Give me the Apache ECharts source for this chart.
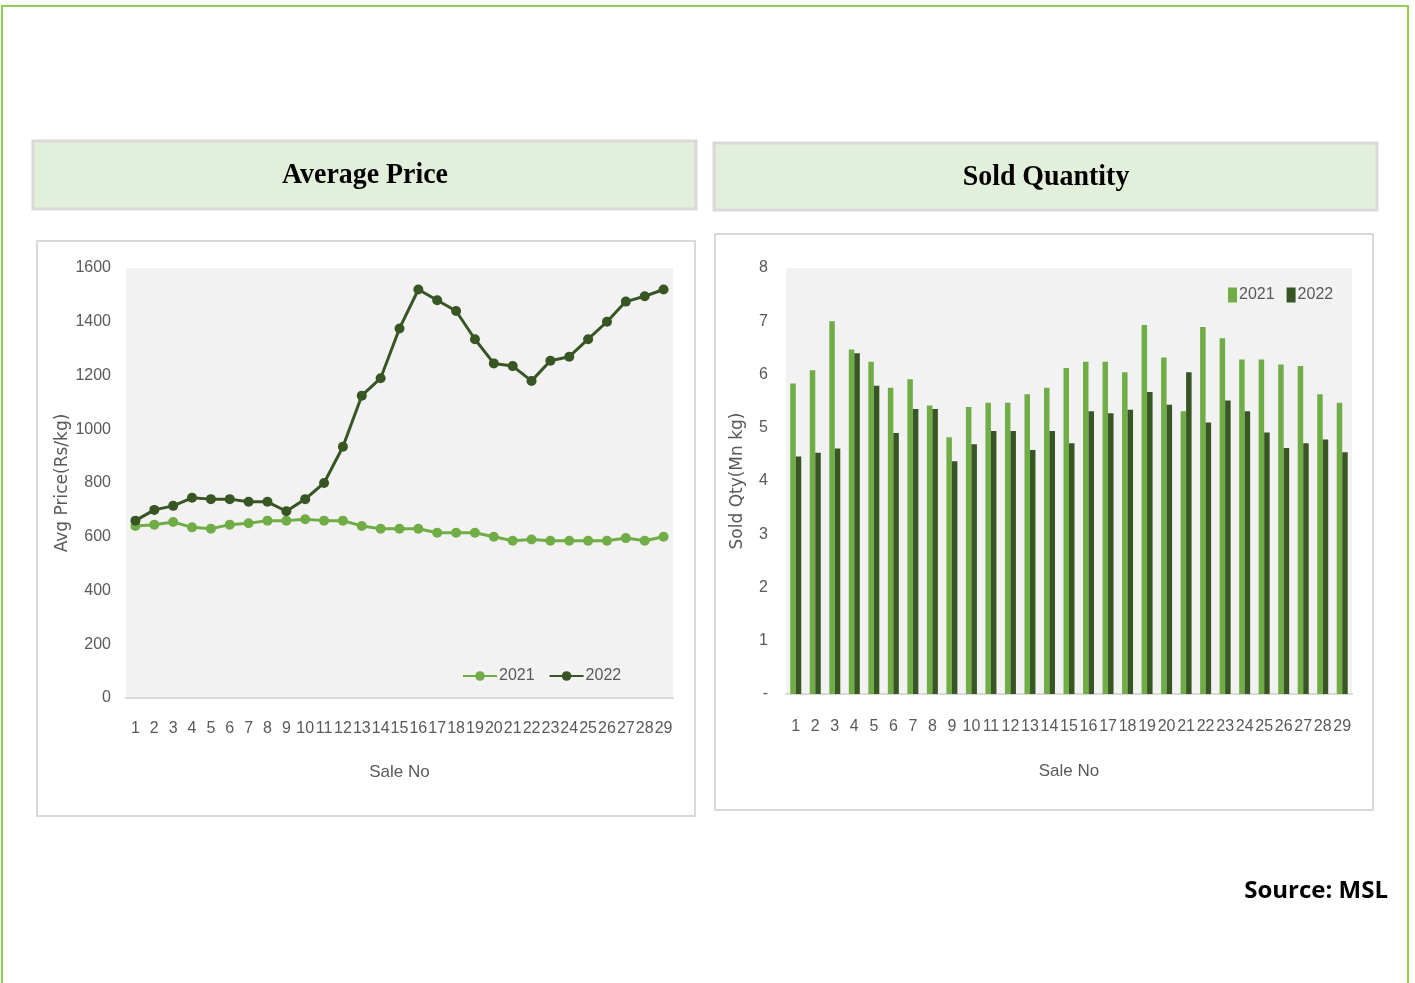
<!DOCTYPE html>
<html>
<head>
<meta charset="utf-8">
<title>Average Price / Sold Quantity</title>
<script src="https://cdn.jsdelivr.net/npm/echarts@6/dist/echarts.min.js"></script>
<style>
  html, body { margin: 0; padding: 0; background: #fff; }
  #main { width: 1415px; height: 983px; }
</style>
</head>
<body>
<div id="main"></div>
<script>
'use strict';

// sale numbers (x axis, both charts)
var saleNo = ['1','2','3','4','5','6','7','8','9','10','11','12','13','14','15',
              '16','17','18','19','20','21','22','23','24','25','26','27','28','29'];

// average price, Rs/kg
var price2021 = [640,645,655,635,630,645,650,660,660,665,660,660,640,630,630,
                 630,615,615,615,600,585,590,585,585,585,585,595,585,600];
var price2022 = [660,700,715,745,740,740,730,730,695,740,800,935,1125,1190,1375,
                 1520,1480,1440,1335,1245,1235,1180,1255,1270,1335,1400,1475,1495,1520];

// sold quantity, Mn kg
var qty2021 = [5.83,6.08,7.00,6.47,6.24,5.75,5.91,5.42,4.82,5.39,5.47,5.47,5.63,5.75,6.12,
               6.24,6.24,6.04,6.93,6.32,5.31,6.89,6.68,6.28,6.28,6.19,6.16,5.63,5.47];
var qty2022 = [4.46,4.53,4.61,6.40,5.79,4.90,5.35,5.35,4.37,4.69,4.94,4.94,4.58,4.94,4.71,
               5.31,5.27,5.34,5.67,5.43,6.04,5.10,5.51,5.31,4.91,4.62,4.71,4.78,4.54];

var light = '#70ad47';
var dark = '#375623';
var grey = '#595959';
var sans = '"Liberation Sans", Arial, sans-serif';

var xLabel = { color: grey, fontSize: 16, fontFamily: sans, interval: 0 };
var yLabel = { color: grey, fontSize: 16, fontFamily: sans };

var option = {
    animation: false,
    backgroundColor: '#ffffff',
    graphic: [
        // outer frame
        { type: 'rect', z: -10, shape: { x: 2, y: 6, width: 1406, height: 1000 },
          style: { fill: 'none', stroke: '#92d050', lineWidth: 2 } },
        // title boxes
        { type: 'rect', z: -10, shape: { x: 33, y: 141, width: 663, height: 68 },
          style: { fill: '#e2efda', stroke: '#d9d9d9', lineWidth: 3 } },
        { type: 'rect', z: -10, shape: { x: 714, y: 143, width: 663, height: 67 },
          style: { fill: '#e2efda', stroke: '#d9d9d9', lineWidth: 3 } },
        { type: 'text', x: 365, y: 175, scaleX: 0.93,
          style: { text: 'Average Price', fill: '#000', font: 'bold 30px "Liberation Serif", serif',
                   textAlign: 'center', textVerticalAlign: 'middle' } },
        { type: 'text', x: 1046, y: 177, scaleX: 0.93,
          style: { text: 'Sold Quantity', fill: '#000', font: 'bold 30px "Liberation Serif", serif',
                   textAlign: 'center', textVerticalAlign: 'middle' } },
        // chart boxes
        { type: 'rect', z: -10, shape: { x: 37, y: 241, width: 658, height: 575 },
          style: { fill: '#fff', stroke: '#d9d9d9', lineWidth: 2 } },
        { type: 'rect', z: -10, shape: { x: 715, y: 234, width: 658, height: 576 },
          style: { fill: '#fff', stroke: '#d9d9d9', lineWidth: 2 } },
        // source note
        { type: 'text', x: 1388, y: 891,
          style: { text: 'Source: MSL', fill: '#000', font: 'bold 24px "Open Sans", "Liberation Sans", sans-serif',
                   textAlign: 'right', textVerticalAlign: 'middle' } }
    ],
    grid: [
        { left: 126, top: 268, width: 547, height: 430, show: true,
          backgroundColor: '#f2f2f2', borderWidth: 0 },
        { left: 786, top: 268, width: 566, height: 426, show: true,
          backgroundColor: '#f2f2f2', borderWidth: 0 }
    ],
    legend: [
        { data: ['2021', '2022'], left: 457, top: 663, itemWidth: 34, itemHeight: 12, itemGap: 14,
          textStyle: { color: grey, fontSize: 16, fontFamily: sans, padding: [0, 0, 0, -3] } },
        { data: ['2021 ', '2022 '], left: 1223, top: 282, itemWidth: 9, itemHeight: 15, itemGap: 12,
          icon: 'rect', formatter: function (n) { return n.trim(); },
          textStyle: { color: grey, fontSize: 16, fontFamily: sans, padding: [0, 0, 0, -3] } }
    ],
    xAxis: [
        { type: 'category', gridIndex: 0, data: saleNo,
          name: 'Sale No', nameLocation: 'middle', nameGap: 66,
          nameTextStyle: { color: grey, fontSize: 17, fontFamily: sans },
          axisLine: { lineStyle: { color: '#d9d9d9', width: 2 } },
          axisTick: { show: false },
          axisLabel: Object.assign({ margin: 23 }, xLabel) },
        { type: 'category', gridIndex: 1, data: saleNo,
          name: 'Sale No', nameLocation: 'middle', nameGap: 69,
          nameTextStyle: { color: grey, fontSize: 17, fontFamily: sans },
          axisLine: { lineStyle: { color: '#d9d9d9', width: 2 } },
          axisTick: { show: false },
          axisLabel: Object.assign({ margin: 25 }, xLabel) }
    ],
    yAxis: [
        { type: 'value', gridIndex: 0, min: 0, max: 1600, interval: 200,
          name: 'Avg Price(Rs/kg)', nameLocation: 'middle', nameGap: 48,
          nameTextStyle: { color: grey, fontSize: 17, fontFamily: '"DejaVu Sans", sans-serif' },
          axisLine: { show: false }, axisTick: { show: false }, splitLine: { show: false },
          axisLabel: Object.assign({ margin: 15, formatter: function (v) { return String(v); } }, yLabel) },
        { type: 'value', gridIndex: 1, min: 0, max: 8, interval: 1,
          name: 'Sold Qty(Mn kg)', nameLocation: 'middle', nameGap: 40,
          nameTextStyle: { color: grey, fontSize: 17, fontFamily: '"DejaVu Sans", sans-serif' },
          axisLine: { show: false }, axisTick: { show: false }, splitLine: { show: false },
          axisLabel: Object.assign({ margin: 18, formatter: function (v) { return v === 0 ? '-' : String(v); } }, yLabel) }
    ],
    series: [
        { name: '2021', type: 'line', xAxisIndex: 0, yAxisIndex: 0, data: price2021,
          symbol: 'circle', symbolSize: 10, z: 3,
          itemStyle: { color: light }, lineStyle: { color: light, width: 3 } },
        { name: '2022', type: 'line', xAxisIndex: 0, yAxisIndex: 0, data: price2022,
          symbol: 'circle', symbolSize: 10, z: 4,
          itemStyle: { color: dark }, lineStyle: { color: dark, width: 3 } },
        { name: '2021 ', type: 'bar', xAxisIndex: 1, yAxisIndex: 1, data: qty2021,
          barWidth: 5.5, barGap: '0%', itemStyle: { color: light } },
        { name: '2022 ', type: 'bar', xAxisIndex: 1, yAxisIndex: 1, data: qty2022,
          barWidth: 5.5, barGap: '0%', itemStyle: { color: dark } }
    ]
};

var myChart = echarts.init(document.getElementById('main'), null, { renderer: 'canvas' });
myChart.setOption(option);
</script>
</body>
</html>
